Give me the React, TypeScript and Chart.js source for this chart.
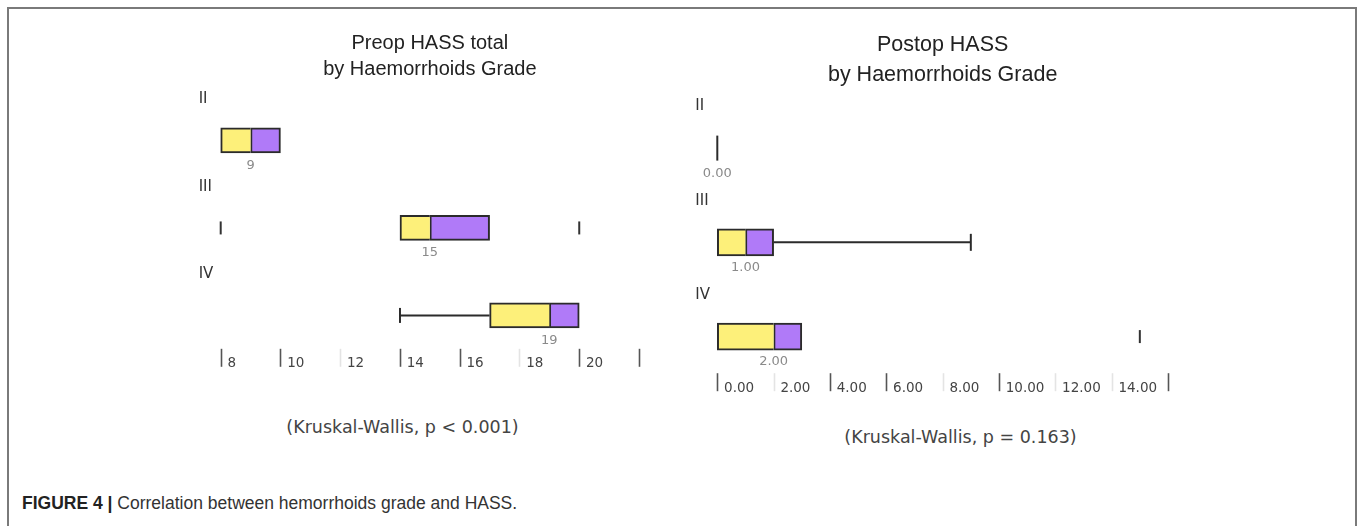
import React, { useEffect, useRef } from "react";
import { Chart, registerables } from "chart.js";

Chart.register(...registerables);

// ---------- data ----------
const GRADES = ["II", "III", "IV"];

// Preop HASS total
const PREOP_TITLE = ["Preop HASS total", "by Haemorrhoids Grade"];
const PREOP_Q1 = [8, 14, 17];
const PREOP_MEDIAN = [9, 15, 19];
const PREOP_Q3 = [10, 17, 20];
const PREOP_WHISKER_LOW: (number | null)[] = [null, null, 14];
const PREOP_WHISKER_HIGH: (number | null)[] = [null, null, null];
const PREOP_MARKS: number[][] = [[], [8, 20], []];
const PREOP_TICKS = ["8", "10", "12", "14", "16", "18", "20", ""];
const PREOP_TEST = "(Kruskal-Wallis, p < 0.001)";

// Postop HASS
const POSTOP_TITLE = ["Postop HASS", "by Haemorrhoids Grade"];
const POSTOP_Q1 = [0, 0, 0];
const POSTOP_MEDIAN = [0, 1, 2];
const POSTOP_Q3 = [0, 2, 3];
const POSTOP_WHISKER_LOW: (number | null)[] = [null, null, null];
const POSTOP_WHISKER_HIGH: (number | null)[] = [null, 9, null];
const POSTOP_MARKS: number[][] = [[], [], [15]];
const POSTOP_TICKS = ["0.00", "2.00", "4.00", "6.00", "8.00", "10.00", "12.00", "14.00", ""];
const POSTOP_TEST = "(Kruskal-Wallis, p = 0.163)";

const CAPTION_BOLD = "FIGURE 4 |";
const CAPTION_TEXT = "Correlation between hemorrhoids grade and HASS.";

// ---------- styling ----------
const YELLOW = "#fdf07a";
const PURPLE = "#b07af8";
const EDGE = "#2b2b2b";

type Spec = {
  title: string[];
  titleSize: number;
  titleLineHeight: number;
  titlePad: { top: number; bottom: number };
  q1: number[];
  med: number[];
  q3: number[];
  wLow: (number | null)[];
  wHigh: (number | null)[];
  marks: number[][];
  xMin: number;
  xMax: number;
  step: number;
  tickLabels: string[];
  faint: number[];
  yMax: number;
  bar: number;
  capR: number;
  markR: number;
  padding: { left: number; right: number; top: number; bottom: number };
  medianFmt: (v: number) => string;
  medianOffset: number;
  rowLabelOffset: number;
};

function buildConfig(s: Spec): any {
  const isBox = (i: number) => s.q3[i] > s.q1[i];
  const yellow = GRADES.map((_, i) => (isBox(i) ? { y: i + 1, x: [s.q1[i], s.med[i]] } : null)).filter(Boolean);
  const purple = GRADES.map((_, i) => (isBox(i) ? { y: i + 1, x: [s.med[i], s.q3[i]] } : null)).filter(Boolean);
  const flat = GRADES.map((_, i) => (!isBox(i) ? { y: i + 1, x: s.med[i] } : null)).filter(Boolean);

  const whiskers: any[] = [];
  const caps: any[] = [];
  GRADES.forEach((_, i) => {
    const lo = s.wLow[i];
    const hi = s.wHigh[i];
    if (lo !== null) {
      whiskers.push([{ x: lo, y: i + 1 }, { x: s.q1[i], y: i + 1 }]);
      caps.push({ x: lo, y: i + 1 });
    }
    if (hi !== null) {
      whiskers.push([{ x: s.q3[i], y: i + 1 }, { x: hi, y: i + 1 }]);
      caps.push({ x: hi, y: i + 1 });
    }
  });
  const marks: any[] = [];
  s.marks.forEach((arr, i) => arr.forEach((v) => marks.push({ x: v, y: i + 1 })));

  const datasets: any[] = [
    ...whiskers.map((d) => ({
      type: "line",
      data: d,
      borderColor: EDGE,
      borderWidth: 2,
      pointRadius: 0,
      clip: false,
      order: 5,
    })),
    {
      type: "bar",
      data: yellow,
      backgroundColor: YELLOW,
      borderColor: EDGE,
      borderWidth: { top: 2, bottom: 2, left: 2, right: 0 },
      borderSkipped: false,
      barThickness: s.bar,
      grouped: false,
      clip: false,
      order: 2,
    },
    {
      type: "bar",
      data: purple,
      backgroundColor: PURPLE,
      borderColor: EDGE,
      borderWidth: 2,
      borderSkipped: false,
      barThickness: s.bar,
      grouped: false,
      clip: false,
      order: 2,
    },
    {
      type: "scatter",
      data: caps,
      showLine: false,
      pointStyle: "line",
      pointRotation: 90,
      pointRadius: s.capR,
      pointBorderColor: EDGE,
      pointBorderWidth: 2,
      clip: false,
      order: 1,
    },
    {
      type: "scatter",
      data: marks,
      showLine: false,
      pointStyle: "line",
      pointRotation: 90,
      pointRadius: s.markR,
      pointBorderColor: "#333",
      pointBorderWidth: 2,
      clip: false,
      order: 1,
    },
    {
      type: "scatter",
      data: flat,
      showLine: false,
      pointStyle: "line",
      pointRotation: 90,
      pointRadius: s.bar / 2 - 1,
      pointBorderColor: EDGE,
      pointBorderWidth: 2,
      clip: false,
      order: 1,
    },
  ];

  const annot = {
    id: "annot",
    afterDraw(chart: any) {
      const { ctx, chartArea } = chart;
      const x = chart.scales.x;
      const y = chart.scales.y;
      ctx.save();
      ctx.textBaseline = "middle";
      // row labels
      ctx.font = '15px "DejaVu Sans"';
      ctx.fillStyle = "#333";
      ctx.textAlign = "left";
      GRADES.forEach((g, i) => {
        ctx.fillText(g, chartArea.left - 22, y.getPixelForValue(i + 1) - s.rowLabelOffset);
      });
      // median labels
      ctx.font = '13px "DejaVu Sans"';
      ctx.fillStyle = "#8a8a8a";
      ctx.textAlign = "center";
      s.med.forEach((m, i) => {
        ctx.fillText(s.medianFmt(m), x.getPixelForValue(m), y.getPixelForValue(i + 1) + s.medianOffset);
      });
      // tick marks beside labels
      x.ticks.forEach((t: any) => {
        const px = Math.round(x.getPixelForValue(t.value)) + 0.5;
        ctx.strokeStyle = s.faint.includes(t.value) ? "#e4e4e4" : "#555";
        ctx.lineWidth = 1.6;
        ctx.beginPath();
        ctx.moveTo(px, x.top + 1);
        ctx.lineTo(px, x.top + 19);
        ctx.stroke();
      });
      ctx.restore();
    },
  };

  return {
    type: "bar",
    data: { datasets },
    plugins: [annot],
    options: {
      indexAxis: "y",
      responsive: false,
      animation: false,
      layout: { padding: s.padding },
      plugins: {
        legend: { display: false },
        tooltip: { enabled: false },
        title: {
          display: true,
          text: s.title,
          color: "#222",
          font: { family: '"Liberation Sans", Arial, sans-serif', size: s.titleSize, weight: "normal", lineHeight: s.titleLineHeight },
          padding: s.titlePad,
        },
      },
      scales: {
        x: {
          type: "linear",
          position: "bottom",
          min: s.xMin,
          max: s.xMax,
          beginAtZero: false,
          grid: { display: false },
          border: { display: false },
          ticks: {
            stepSize: s.step,
            autoSkip: false,
            maxRotation: 0,
            align: "start",
            padding: 0,
            color: "#444",
            font: { family: '"DejaVu Sans"', size: 13.5 },
            callback: (_v: any, i: number) => (s.tickLabels[i] ? "\u2002" + s.tickLabels[i] : ""),
          },
        },
        y: {
          type: "linear",
          min: 0.5,
          max: s.yMax,
          reverse: true,
          offset: false,
          display: false,
          grid: { offset: false },
        },
      },
    },
  };
}

function BoxChart({ spec, left, top, width, height }: { spec: Spec; left: number; top: number; width: number; height: number }) {
  const ref = useRef<HTMLCanvasElement>(null);
  useEffect(() => {
    if (!ref.current) return;
    const chart = new Chart(ref.current, buildConfig(spec));
    return () => chart.destroy();
  }, [spec]);
  return (
    <canvas
      ref={ref}
      width={width}
      height={height}
      style={{ position: "absolute", left, top, width, height }}
    />
  );
}

const PREOP_SPEC: Spec = {
  title: PREOP_TITLE,
  titleSize: 20,
  titleLineHeight: 1.33,
  titlePad: { top: 10, bottom: 13.5 },
  q1: PREOP_Q1,
  med: PREOP_MEDIAN,
  q3: PREOP_Q3,
  wLow: PREOP_WHISKER_LOW,
  wHigh: PREOP_WHISKER_HIGH,
  marks: PREOP_MARKS,
  xMin: 8,
  xMax: 22,
  step: 2,
  tickLabels: PREOP_TICKS,
  faint: [12, 18],
  yMax: 3.37,
  bar: 25,
  capR: 7.5,
  markR: 6.5,
  padding: { left: 40.7, right: 21, top: 0, bottom: 8 },
  medianFmt: (v) => String(v),
  medianOffset: 25,
  rowLabelOffset: 41,
};

const POSTOP_SPEC: Spec = {
  title: POSTOP_TITLE,
  titleSize: 21.5,
  titleLineHeight: 1.395,
  titlePad: { top: 10, bottom: 11 },
  q1: POSTOP_Q1,
  med: POSTOP_MEDIAN,
  q3: POSTOP_Q3,
  wLow: POSTOP_WHISKER_LOW,
  wHigh: POSTOP_WHISKER_HIGH,
  marks: POSTOP_MARKS,
  xMin: 0,
  xMax: 16,
  step: 2,
  tickLabels: POSTOP_TICKS,
  faint: [2, 8, 12, 14],
  yMax: 3.378,
  bar: 27,
  capR: 8.5,
  markR: 6.5,
  padding: { left: 37.3, right: 22, top: 0, bottom: 8.6 },
  medianFmt: (v) => v.toFixed(2),
  medianOffset: 25.5,
  rowLabelOffset: 41.5,
};

const kwStyle = (cx: number, cy: number): React.CSSProperties => ({
  position: "absolute",
  left: cx - 200,
  top: cy - 11,
  width: 400,
  lineHeight: "22px",
  textAlign: "center",
  fontFamily: '"DejaVu Sans", sans-serif',
  fontSize: 17.5,
  color: "#444",
  whiteSpace: "nowrap",
});

export default function App() {
  return (
    <div
      style={{
        position: "fixed",
        left: 0,
        top: 0,
        width: 1360,
        height: 526,
        overflow: "hidden",
        background: "#fff",
      }}
    >
      <div
        style={{
          position: "absolute",
          left: 7,
          top: 7,
          width: 1350,
          height: 600,
          boxSizing: "border-box",
          border: "2px solid #7a7a7a",
          borderBottom: "none",
        }}
      />
      <BoxChart spec={PREOP_SPEC} left={180} top={20} width={480} height={360} />
      <BoxChart spec={POSTOP_SPEC} left={680} top={20} width={510} height={385} />
      <div style={kwStyle(402.5, 427)}>{PREOP_TEST}</div>
      <div style={kwStyle(960.5, 437)}>{POSTOP_TEST}</div>
      <div
        style={{
          position: "absolute",
          left: 22,
          top: 492,
          lineHeight: "22px",
          fontFamily: '"Liberation Sans", Arial, sans-serif',
          fontSize: 17.5,
          color: "#333",
          whiteSpace: "nowrap",
        }}
      >
        <span style={{ fontWeight: "bold", color: "#222" }}>{CAPTION_BOLD}</span> {CAPTION_TEXT}
      </div>
    </div>
  );
}
